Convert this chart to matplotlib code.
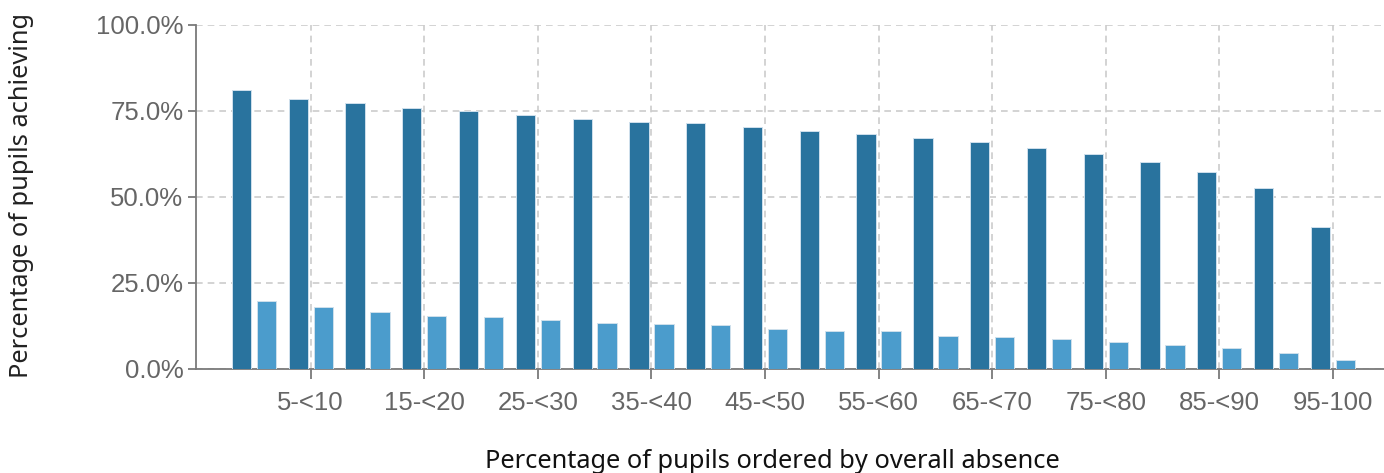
import matplotlib.pyplot as plt
import numpy as np

# absence bands (percentile groups of pupils)
categories = ['0-<5', '5-<10', '10-<15', '15-<20', '20-<25', '25-<30', '30-<35', '35-<40',
              '40-<45', '45-<50', '50-<55', '55-<60', '60-<65', '65-<70', '70-<75', '75-<80',
              '80-<85', '85-<90', '90-<95', '95-100']

# percentage of pupils achieving - two measures
dark_vals = [80.9, 78.3, 77.2, 75.9, 75.0, 73.7, 72.7, 71.7, 71.3, 70.2,
             69.2, 68.3, 67.1, 66.0, 64.1, 62.3, 60.0, 57.1, 52.5, 41.2]
light_vals = [19.8, 18.0, 16.6, 15.4, 15.1, 14.1, 13.4, 13.0, 12.6, 11.5,
              11.0, 10.9, 9.6, 9.2, 8.5, 7.7, 6.8, 6.0, 4.6, 2.6]

dark_col = '#29739e'
light_col = '#4b9ccc'
grey_txt = '#666666'

fig = plt.figure(figsize=(13.84, 4.73), dpi=100)
ax = fig.add_axes([196 / 1384, 0.2205, 1 - 196 / 1384, 0.7273])

x = np.arange(len(categories))
w = 0.34
off = 0.22
ax.bar(x - off, dark_vals, w, color=dark_col, edgecolor='#cfe0ec', linewidth=0.7, zorder=3)
ax.bar(x + off, light_vals, w, color=light_col, edgecolor='#cfe0ec', linewidth=0.7, zorder=3)

ax.set_xlim(-1.02, 19.9)
ax.set_ylim(0, 100)

# only every other band is labelled
ax.set_xticks(x[1::2])
ax.set_xticklabels(categories[1::2])
ax.set_yticks([0, 25, 50, 75, 100])
ax.set_yticklabels(['0.0%', '25.0%', '50.0%', '75.0%', '100.0%'])

ax.grid(True, linestyle=(0, (4, 3)), color='#cccccc', linewidth=1.2, zorder=0)
ax.set_axisbelow(True)

for s in ['top', 'right']:
    ax.spines[s].set_visible(False)
for s in ['left', 'bottom']:
    ax.spines[s].set_color('#7a7a7a')
    ax.spines[s].set_linewidth(1.3)

ax.tick_params(axis='x', length=7, width=1.3, color='#7a7a7a', pad=9,
               labelsize=18.5, labelcolor=grey_txt)
ax.tick_params(axis='y', length=6, width=1.3, color='#7a7a7a', pad=3,
               labelsize=18.5, labelcolor=grey_txt)
for lab in ax.get_xticklabels() + ax.get_yticklabels():
    lab.set_family('Liberation Sans')

fig.text(22 / 1384, 1 - 195 / 473, 'Percentage of pupils achieving', rotation=90,
         ha='center', va='center', fontsize=18.3, color='#222222', family='Noto Sans')
fig.text(772 / 1384, 1 - 461 / 473, 'Percentage of pupils ordered by overall absence',
         ha='center', va='center', fontsize=18.3, color='#111111', family='Noto Sans')

fig.savefig('out.png', dpi=100)
